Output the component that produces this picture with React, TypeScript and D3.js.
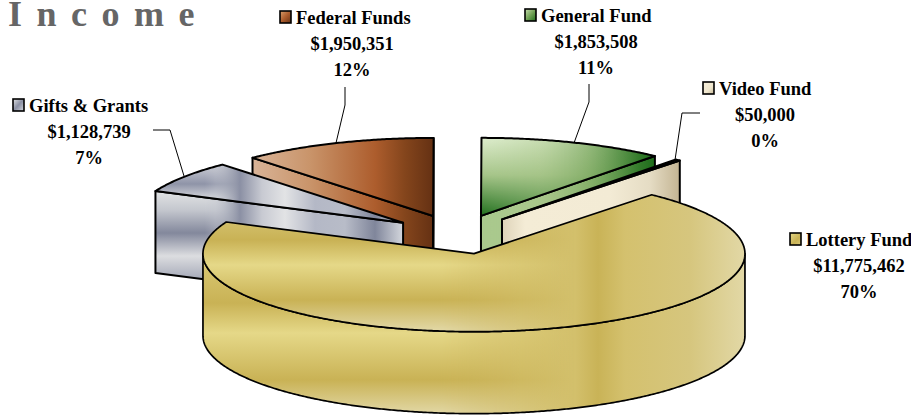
import React from "react";
import * as d3 from "d3";

// ---- data ----
const categories = ["Lottery Fund", "Gifts & Grants", "Federal Funds", "General Fund", "Video Fund"];
const amounts = [11775462, 1128739, 1950351, 1853508, 50000];
const amountLabels = ["$11,775,462", "$1,128,739", "$1,950,351", "$1,853,508", "$50,000"];
const percentLabels = ["70%", "7%", "12%", "11%", "0%"];
const titleText = "I n c o m e";

// ---- layout ----
const W = 911, H = 415;
const RX = 271, RY = 78, DEPTH = 82, EXPLODE = 0.253;
const OX = 457.5, OY = 234.4;
const START = (41 * Math.PI) / 180;
const drawOrder = [2, 3, 4, 1, 0];
const nudgeX = [1.6, 1, 0, 0, 0];
const FONT = "'Liberation Serif','Times New Roman',serif";

type Stop = [number, string];
// x gradient, y gradient (wall / top), and the x span where y-banding fades out
const looks: { key: string; x: Stop[]; yTop: Stop[]; yWall: Stop[]; fade: [number, number]; swatch: Stop[] }[] = [
  {
    key: "lot",
    x: [[203, "#cdb862"], [470, "#cdb862"], [520, "#d2be68"], [575, "#d3c06c"], [598, "#c9b357"], [625, "#d4c16e"], [690, "#d6c67e"], [745, "#e2d8a6"]],
    yTop: [[220, "#d3c06c"], [240, "#c9b255"], [265, "#e5d888"], [300, "#c9b255"], [331, "#e2d8a6"]],
    yWall: [[253, "#dccb78"], [303, "#c9b255"], [333, "#e5d888"], [380, "#c9b255"], [414, "#e2d8a6"]],
    fade: [440, 575],
    swatch: [[0, "#e5d888"], [0.6, "#c9b255"], [1, "#d8c878"]],
  },
  {
    key: "gif",
    x: [[156, "#c4c7d0"], [215, "#c4c7d0"], [240, "#8b90a4"], [262, "#c8cad2"], [285, "#e2e3e5"], [315, "#b4b8c6"], [345, "#b8bcc8"], [375, "#80869b"], [403, "#d4d7dd"]],
    yTop: [[166, "#c8cad2"], [184, "#8f94a8"], [200, "#dcdde0"], [225, "#b4b8c6"]],
    yWall: [[190, "#e4e5e6"], [210, "#c4c7ce"], [233, "#83889c"], [256, "#dcdde0"], [278, "#a8acba"]],
    fade: [205, 240],
    swatch: [[0, "#e4e5e6"], [0.5, "#8b90a4"], [1, "#d4d7dd"]],
  },
  {
    key: "fed",
    x: [[252, "#d9b498"], [310, "#c9946a"], [375, "#ad5d2d"], [405, "#84451c"], [433, "#653113"]],
    yTop: [], yWall: [], fade: [0, 0],
    swatch: [[0, "#d9a06e"], [0.5, "#ad5d2d"], [1, "#653113"]],
  },
  {
    key: "gen",
    x: [[481, "#b4cf9a"], [540, "#a6c487"], [590, "#75a45a"], [654, "#1f6e1c"]],
    yTop: [[139, "#dcebcb"], [175, "#a5c488"], [216, "#1f6e1c"]], yWall: [[139, "#a9c88c"], [240, "#a9c88c"]], fade: [481, 640],
    swatch: [[0, "#c8deb0"], [0.5, "#75a45a"], [1, "#1f6e1c"]],
  },
  {
    key: "vid",
    x: [[501, "#ddd2b8"], [525, "#f4ecd6"], [610, "#f3ebd5"], [650, "#e5dcc4"], [679, "#c4b594"]],
    yTop: [], yWall: [], fade: [0, 0],
    swatch: [[0, "#f6efdc"], [0.6, "#efe6cd"], [1, "#c4b594"]],
  },
];

const labelLayout = [
  { cx: 859, base: 246, sx: 790 },
  { cx: 89, base: 112, sx: 13 },
  { cx: 352, base: 24, sx: 280 },
  { cx: 596, base: 22, sx: 525 },
  { cx: 765, base: 95, sx: 703 },
];
const leaders: [number, number][][] = [
  [],
  [[153, 130], [170, 130], [184, 176]],
  [[345, 87], [345, 105], [336, 143]],
  [[589, 84], [589, 102], [574, 143]],
  [[700, 113], [682, 113], [675, 160]],
];

const pie = d3.pie<number>().sort(null).value((d) => d).startAngle(START).endAngle(START + 2 * Math.PI);
const line = d3.line<[number, number]>();

function App() {
  const arcs = pie(amounts);

  const parts = arcs.map((a, idx) => {
    const mid = (a.startAngle + a.endAngle) / 2;
    const cx = OX + nudgeX[idx] + Math.sin(mid) * RX * EXPLODE;
    const cy = OY - Math.cos(mid) * RY * EXPLODE;
    const P = (t: number, dz = 0): [number, number] => [cx + Math.sin(t) * RX, cy - Math.cos(t) * RY + dz];
    const C = (dz = 0): [number, number] => [cx, cy + dz];
    const samples = (t0: number, t1: number) => {
      const n = Math.max(2, Math.ceil(Math.abs(t1 - t0) / 0.008));
      return d3.range(n + 1).map((i) => t0 + ((t1 - t0) * i) / n);
    };
    const top = line([C(), ...samples(a.startAngle, a.endAngle).map((t) => P(t))]) + "Z";
    const faces: string[] = [];
    if (Math.sin(a.startAngle) < 0)
      faces.push(line([C(), P(a.startAngle), P(a.startAngle, DEPTH), C(DEPTH)]) + "Z");
    if (Math.sin(a.endAngle) > 0)
      faces.push(line([C(), P(a.endAngle), P(a.endAngle, DEPTH), C(DEPTH)]) + "Z");
    // visible outer wall: the part of the rim on the viewer's side
    const walls: string[] = [];
    const lo = Math.PI / 2, hi = (3 * Math.PI) / 2;
    [0, 2 * Math.PI].forEach((shift) => {
      const t0 = Math.max(a.startAngle, lo + shift);
      const t1 = Math.min(a.endAngle, hi + shift);
      if (t1 > t0) {
        const s = samples(t0, t1);
        walls.push(line([...s.map((t) => P(t)), ...s.slice().reverse().map((t) => P(t, DEPTH))]) + "Z");
      }
    });
    return { top, faces, walls };
  });

  const shade = (d: string, i: number, kind: "Top" | "Wall", k: string) => {
    const lk = looks[i];
    const hasY = lk.yTop.length > 0;
    return (
      <g key={k}>
        <path d={d} fill={`url(#${lk.key}X)`} />
        {hasY && <path d={d} fill={`url(#${lk.key}Y${kind})`} mask={`url(#${lk.key}M)`} />}
        <path d={d} fill="none" stroke="#000" strokeWidth={i === 0 ? 1.7 : 2} strokeLinejoin="round" />
      </g>
    );
  };

  return (
    <svg width={W} height={H} viewBox={`0 0 ${W} ${H}`} style={{ position: "absolute", left: 0, top: 0, display: "block" }} fontFamily={FONT}>
      <defs>
        {looks.map((lk) => (
          <React.Fragment key={lk.key}>
            <linearGradient id={`${lk.key}X`} gradientUnits="userSpaceOnUse" x1={lk.x[0][0]} x2={lk.x[lk.x.length - 1][0]} y1={0} y2={0}>
              {lk.x.map(([p, c], j) => (
                <stop key={j} offset={(p - lk.x[0][0]) / (lk.x[lk.x.length - 1][0] - lk.x[0][0])} stopColor={c} />
              ))}
            </linearGradient>
            {lk.yTop.length > 0 && (
              <>
                {(["Top", "Wall"] as const).map((kind) => {
                  const st = kind === "Top" ? lk.yTop : lk.yWall;
                  return (
                    <linearGradient key={kind} id={`${lk.key}Y${kind}`} gradientUnits="userSpaceOnUse" x1={0} x2={0} y1={st[0][0]} y2={st[st.length - 1][0]}>
                      {st.map(([p, c], j) => (
                        <stop key={j} offset={(p - st[0][0]) / (st[st.length - 1][0] - st[0][0])} stopColor={c} />
                      ))}
                    </linearGradient>
                  );
                })}
                <linearGradient id={`${lk.key}F`} gradientUnits="userSpaceOnUse" x1={lk.fade[0]} x2={lk.fade[1]} y1={0} y2={0}>
                  <stop offset={0} stopColor="#fff" />
                  <stop offset={1} stopColor="#000" />
                </linearGradient>
                <mask id={`${lk.key}M`} maskUnits="userSpaceOnUse" x={0} y={0} width={W} height={H}>
                  <rect x={0} y={0} width={W} height={H} fill={`url(#${lk.key}F)`} />
                </mask>
              </>
            )}
            <linearGradient id={`${lk.key}S`} x1={0} y1={0} x2={1} y2={1}>
              {lk.swatch.map(([p, c], j) => (
                <stop key={j} offset={p} stopColor={c} />
              ))}
            </linearGradient>
          </React.Fragment>
        ))}
      </defs>

      <text x={8} y={26} fontSize={36} fontWeight="bold" fill="#666666" wordSpacing={5.5}>
        {titleText}
      </text>

      {drawOrder.map((i) => (
        <g key={categories[i]}>
          {parts[i].walls.map((d, j) => shade(d, i, "Wall", `w${j}`))}
          {parts[i].faces.map((d, j) => shade(d, i, "Wall", `f${j}`))}
          {shade(parts[i].top, i, "Top", "t")}
        </g>
      ))}

      {leaders.map((pts, i) =>
        pts.length ? <path key={i} d={line(pts) || ""} fill="none" stroke="#000" strokeWidth={1} /> : null
      )}

      {categories.map((c, i) => {
        const l = labelLayout[i];
        return (
          <g key={c} fontSize={18.5} fontWeight="bold" fill="#000">
            <rect x={l.sx} y={l.base - 13} width={11} height={12} fill={`url(#${looks[i].key}S)`} stroke="#000" strokeWidth={1.6} />
            <text x={l.sx + 16} y={l.base}>{c}</text>
            <text x={l.cx} y={l.base + 26} textAnchor="middle">{amountLabels[i]}</text>
            <text x={l.cx} y={l.base + 52} textAnchor="middle">{percentLabels[i]}</text>
          </g>
        );
      })}
    </svg>
  );
}

export default App;
